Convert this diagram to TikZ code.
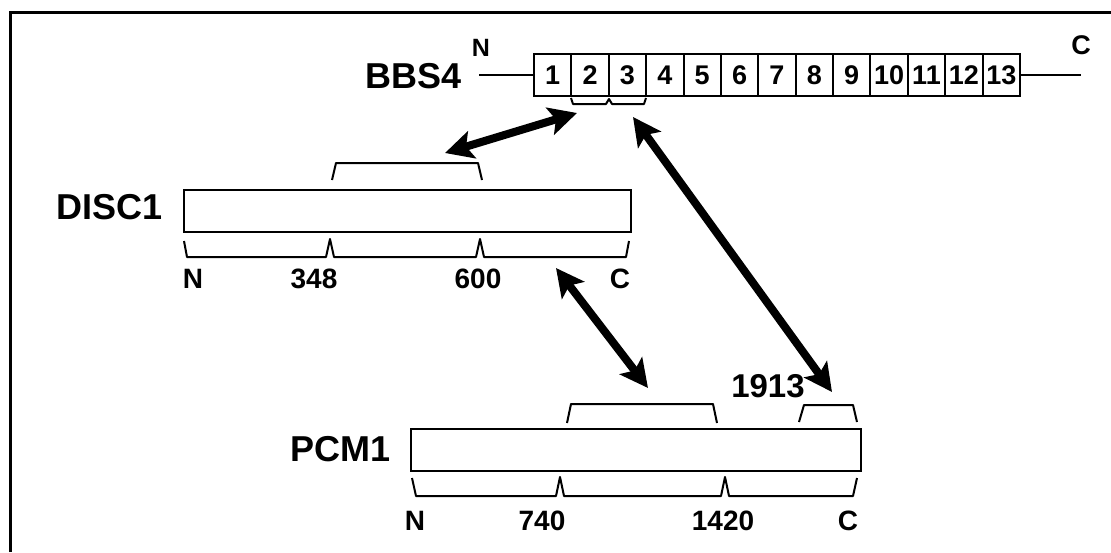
\documentclass[tikz,border=0pt]{standalone}
\usepackage{fontspec}
\setmainfont{Liberation Sans}
\usetikzlibrary{arrows.meta}
\begin{document}
\begin{tikzpicture}[x=1pt,y=-1pt,
  biglab/.style={font=\fontsize{36}{36}\selectfont\bfseries, inner sep=0pt},
  numlab/.style={font=\fontsize{28}{28}\selectfont\bfseries, inner sep=0pt},
  exon/.style={draw, line width=2pt, minimum width=37.4pt, minimum height=42pt, inner sep=0pt, anchor=west,
    text height=19pt, text depth=0pt, font=\fontsize{27}{27}\selectfont\bfseries},
  protein/.style={draw, line width=2.2pt, inner sep=0pt, anchor=north west},
  brk/.style={line width=2pt, line join=round},
  thin/.style={line width=1.6pt},
  dbl/.style={line width=8pt, {Stealth[length=28pt,width=28pt,inset=6pt]}-{Stealth[length=28pt,width=28pt,inset=6pt]}}]
\useasboundingbox (0,0) rectangle (1111,552);
% frame
\draw[line width=3pt] (10,552) -- (10,12) -- (1111,12);

% BBS4
\node[biglab, anchor=east] (bbs) at (462,76) {BBS4};
\node[font=\fontsize{25}{25}\selectfont\bfseries, inner sep=0pt] (bn) at (481,48) {N};
\node[font=\fontsize{27}{27}\selectfont\bfseries, inner sep=0pt] (bc) at (1081,45) {C};
\foreach \i in {1,...,13}{
  \node[exon] (e\i) at ({533+(\i-1)*37.38},75) {\i};
}
\coordinate (lnN) at (479,75);
\coordinate (lnC) at (1081,75);
\draw[thin] (lnN) -- (e1.west);
\draw[thin] (e13.east) -- (lnC);
\draw[brk] (571,98) -- (573,104) -- (606,104) -- (609,99) -- (612,104) -- (644,104) -- (646,98);

% DISC1
\node[biglab, anchor=east] (disclab) at (163,207) {DISC1};
\node[protein, minimum width=447pt, minimum height=42pt] (disc) at (183,189) {};
\draw[brk] (332,180) -- (336,163) -- (478,163) -- (482,180);
\draw[brk] (184,241) -- (187,257) -- (326,257) -- (330,239) -- (334,257) -- (476,257) -- (480,239) -- (484,257) -- (626,257) -- (629,241);
\node[numlab] (dN) at (193,279) {N};
\node[numlab] (d348) at (314,279) {348};
\node[numlab] (d600) at (478,279) {600};
\node[numlab] (dC) at (620,279) {C};

% PCM1
\node[biglab, anchor=east] (pcmlab) at (391,449) {PCM1};
\node[protein, minimum width=450pt, minimum height=42pt] (pcm) at (410,428) {};
\draw[brk] (567,423) -- (571,404) -- (713,404) -- (717,423);
\draw[brk] (799,422) -- (804,405) -- (853,405) -- (857,422);
\draw[brk] (412,478) -- (416,496) -- (556,496) -- (560,477) -- (564,496) -- (721,496) -- (725,477) -- (729,496) -- (853,496) -- (857,478);
\node[font=\fontsize{33}{33}\selectfont\bfseries, inner sep=0pt] (p1913) at (768,386) {1913};
\node[numlab] (pN) at (415,521) {N};
\node[numlab] (p740) at (542,521) {740};
\node[numlab] (p1420) at (723,521) {1420};
\node[numlab] (pC) at (848,521) {C};

% arrows
\coordinate (a1s) at (445,153);
\coordinate (a1e) at (577,113);
\coordinate (a2s) at (633,117);
\coordinate (a2e) at (832,392);
\coordinate (a3s) at (556,268);
\coordinate (a3e) at (648,388);
\draw[dbl] (a1s) -- (a1e);
\draw[dbl] (a2s) -- (a2e);
\draw[dbl] (a3s) -- (a3e);
\end{tikzpicture}
\end{document}
